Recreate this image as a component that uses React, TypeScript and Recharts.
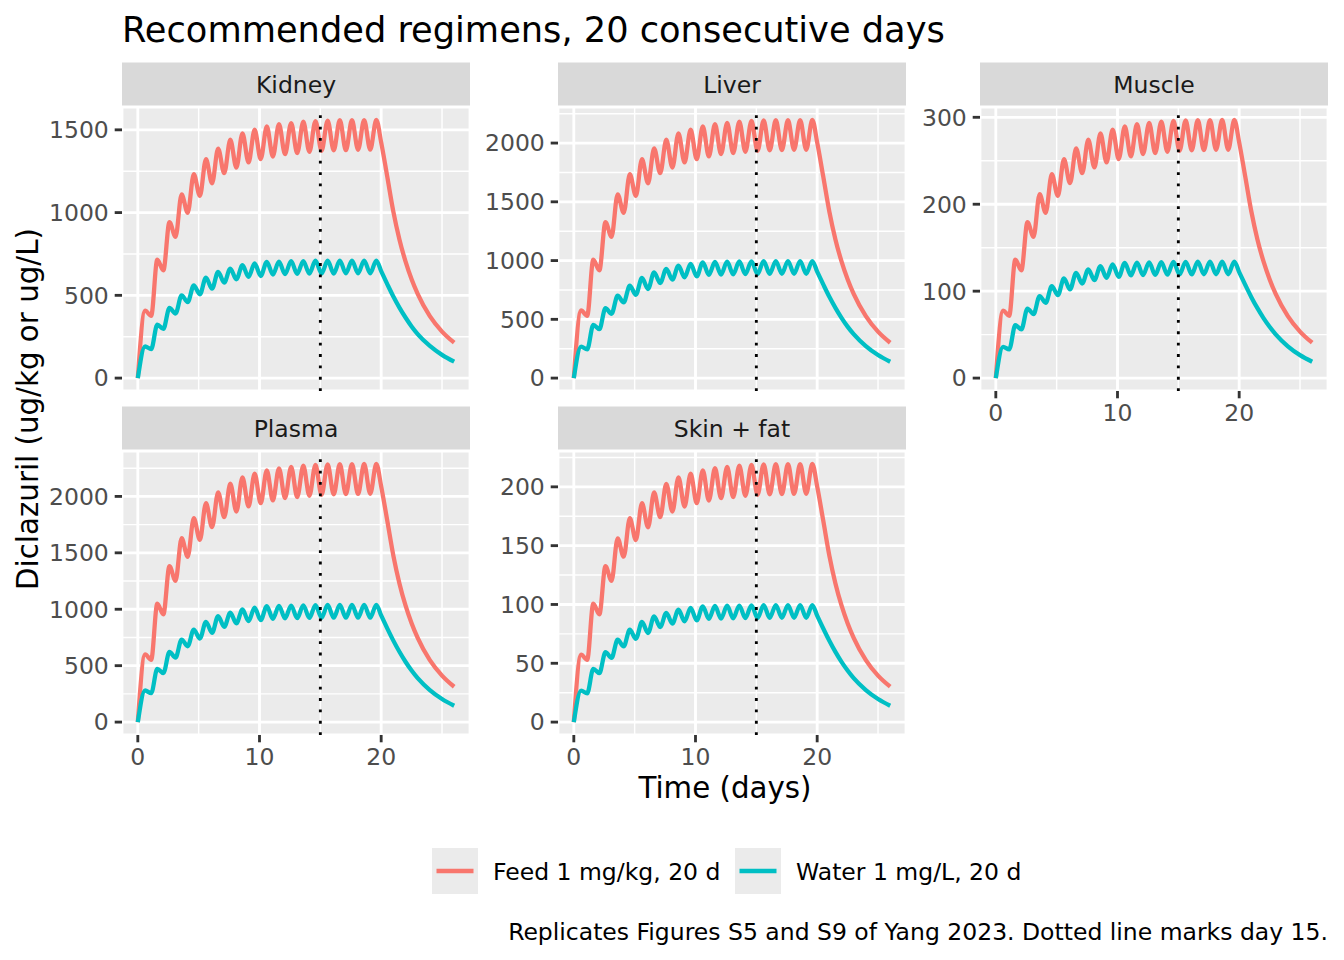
import { LineChart, Line, XAxis, YAxis, CartesianGrid, ReferenceLine } from 'recharts';

// time points (days): start, then peak / trough of each daily cycle, then washout
const TIME = [0, 0.6, 1.1, 1.6, 2.1, 2.6, 3.1, 3.6, 4.1, 4.6, 5.1, 5.6, 6.1, 6.6, 7.1, 7.6, 8.1, 8.6, 9.1, 9.6, 10.1, 10.6, 11.1, 11.6, 12.1, 12.6, 13.1, 13.6, 14.1, 14.6, 15.1, 15.6, 16.1, 16.6, 17.1, 17.6, 18.1, 18.6, 19.1, 19.6, 20, 20.5, 21, 21.5, 22, 22.5, 23, 24, 25, 26];

const KIDNEY_FEED = [0, 408, 376, 716, 651, 942, 853, 1110, 999, 1232, 1101, 1323, 1177, 1387, 1238, 1440, 1272, 1479, 1303, 1501, 1323, 1521, 1339, 1534, 1353, 1541, 1360, 1549, 1367, 1553, 1373, 1556, 1376, 1558, 1377, 1558, 1379, 1559, 1380, 1560, 1424, 1217, 1006, 838, 705, 597, 509, 374, 281, 214];
const KIDNEY_WATER = [0, 191, 175, 323, 297, 424, 390, 500, 459, 560, 506, 607, 540, 642, 577, 662, 597, 682, 611, 693, 617, 702, 626, 704, 628, 706, 630, 707, 631, 709, 632, 709, 632, 710, 633, 710, 633, 710, 633, 710, 646, 568, 493, 426, 366, 312, 266, 194, 140, 99];

const LIVER_FEED = [0, 575, 530, 1008, 917, 1327, 1202, 1564, 1407, 1735, 1550, 1863, 1658, 1954, 1744, 2028, 1792, 2083, 1835, 2114, 1863, 2142, 1886, 2160, 1906, 2171, 1915, 2182, 1926, 2188, 1934, 2192, 1938, 2194, 1940, 2195, 1942, 2196, 1943, 2197, 2006, 1714, 1417, 1180, 993, 841, 716, 527, 395, 301];
const LIVER_WATER = [0, 268, 245, 453, 416, 595, 547, 701, 644, 786, 709, 852, 758, 900, 809, 929, 838, 957, 857, 972, 866, 985, 878, 988, 881, 990, 883, 992, 885, 994, 886, 995, 887, 996, 888, 996, 888, 996, 888, 996, 906, 797, 692, 598, 513, 438, 374, 272, 196, 139];

const MUSCLE_FEED = [0, 77.7, 71.7, 136.3, 124.0, 179.4, 162.5, 211.5, 190.2, 234.6, 209.6, 251.9, 224.2, 264.2, 235.8, 274.2, 242.3, 281.6, 248.1, 285.8, 251.9, 289.6, 255.0, 292.0, 257.7, 293.5, 258.9, 295.0, 260.4, 295.8, 261.5, 296.4, 262.0, 296.6, 262.3, 296.8, 262.6, 296.9, 262.7, 297.0, 271.2, 231.7, 191.6, 159.5, 134.2, 113.8, 96.8, 71.3, 53.5, 40.7];
const MUSCLE_WATER = [0, 36.0, 33.0, 60.9, 56.0, 80.0, 73.6, 94.3, 86.6, 105.7, 95.4, 114.6, 102.0, 121.1, 108.8, 125.0, 112.7, 128.7, 115.3, 130.7, 116.5, 132.5, 118.1, 132.9, 118.5, 133.2, 118.8, 133.4, 119.0, 133.7, 119.2, 133.8, 119.3, 134.0, 119.4, 134.0, 119.4, 134.0, 119.4, 134.0, 121.9, 107.2, 93.1, 80.4, 69.0, 59.0, 50.3, 36.6, 26.4, 18.8];

const PLASMA_FEED = [0, 599, 552, 1050, 955, 1382, 1252, 1629, 1465, 1807, 1614, 1940, 1727, 2035, 1816, 2112, 1866, 2169, 1911, 2202, 1940, 2231, 1964, 2249, 1985, 2261, 1994, 2272, 2006, 2279, 2014, 2283, 2018, 2285, 2020, 2286, 2022, 2287, 2023, 2288, 2089, 1785, 1476, 1229, 1034, 876, 746, 549, 412, 313];
const PLASMA_WATER = [0, 280, 256, 472, 434, 621, 571, 731, 672, 820, 740, 889, 791, 939, 844, 969, 874, 998, 894, 1014, 903, 1027, 916, 1030, 919, 1033, 921, 1035, 923, 1037, 924, 1038, 925, 1039, 926, 1039, 926, 1039, 926, 1039, 945, 831, 722, 623, 535, 457, 390, 284, 205, 145];

const SKIN_FEED = [0, 57.4, 52.9, 100.7, 91.6, 132.6, 120.1, 156.2, 140.6, 173.3, 154.8, 186.1, 165.6, 195.2, 174.2, 202.6, 179.0, 208.1, 183.3, 211.2, 186.1, 214.0, 188.4, 215.8, 190.4, 216.9, 191.3, 218.0, 192.4, 218.6, 193.2, 219.0, 193.6, 219.2, 193.8, 219.3, 194.0, 219.4, 194.1, 219.5, 200.4, 171.2, 141.6, 117.9, 99.2, 84.1, 71.6, 52.7, 39.5, 30.1];
const SKIN_WATER = [0, 26.8, 24.5, 45.3, 41.6, 59.4, 54.6, 70.0, 64.3, 78.5, 70.8, 85.1, 75.7, 89.9, 80.8, 92.8, 83.7, 95.6, 85.6, 97.1, 86.5, 98.4, 87.7, 98.7, 88.0, 98.9, 88.2, 99.1, 88.4, 99.3, 88.5, 99.4, 88.6, 99.5, 88.7, 99.5, 88.7, 99.5, 88.7, 99.5, 90.5, 79.6, 69.2, 59.7, 51.2, 43.8, 37.3, 27.2, 19.6, 13.9];

const X_TICKS = [0, 10, 20];
const X_MINOR = [5, 15, 25];
const TICKS_500 = [0, 500, 1000, 1500, 2000];
const MINOR_500 = [250, 750, 1250, 1750, 2250];
const KIDNEY_TICKS = [0, 500, 1000, 1500];
const KIDNEY_MINOR = [250, 750, 1250];
const MUSCLE_TICKS = [0, 100, 200, 300];
const MUSCLE_MINOR = [50, 150, 250];
const SKIN_TICKS = [0, 50, 100, 150, 200];
const SKIN_MINOR = [25, 75, 125, 175, 225];

const SERIES = ['Feed 1 mg/kg, 20 d', 'Water 1 mg/L, 20 d'];
const COLORS = ['#F8766D', '#00BFC4'];
const MARK_DAY = 15;

const FONT = 'DejaVu Sans';
const PANEL_W = 348;
const PANEL_H = 284;
const STRIP_H = 44.5;
const Y_AXIS_W = 110;
const X_AXIS_H = 50;
const TOP_PAD = 16;
const COL_LEFT = [122, 558, 980];
const ROW_TOP = [107, 451];

const PANELS = [
  { name: 'Kidney', feed: KIDNEY_FEED, water: KIDNEY_WATER, ticks: KIDNEY_TICKS, minor: KIDNEY_MINOR, col: 0, row: 0, showX: false },
  { name: 'Liver', feed: LIVER_FEED, water: LIVER_WATER, ticks: TICKS_500, minor: MINOR_500, col: 1, row: 0, showX: false },
  { name: 'Muscle', feed: MUSCLE_FEED, water: MUSCLE_WATER, ticks: MUSCLE_TICKS, minor: MUSCLE_MINOR, col: 2, row: 0, showX: true },
  { name: 'Plasma', feed: PLASMA_FEED, water: PLASMA_WATER, ticks: TICKS_500, minor: MINOR_500, col: 0, row: 1, showX: true },
  { name: 'Skin + fat', feed: SKIN_FEED, water: SKIN_WATER, ticks: SKIN_TICKS, minor: SKIN_MINOR, col: 1, row: 1, showX: true },
];

const tickStyle = { fill: '#4D4D4D', fontSize: 23.5, fontFamily: FONT };
const tickLine = { stroke: '#333333', strokeWidth: 2.84 };

const xMin = Math.min(...TIME);
const xMax = Math.max(...TIME);
const xPad = (xMax - xMin) * 0.05;

const Panel = ({ p }) => {
  const data = TIME.map((t, i) => ({ t, feed: p.feed[i], water: p.water[i] }));
  const yMax = Math.max(...p.feed, ...p.water);
  const yPad = yMax * 0.05;
  return (
    <div style={{ position: 'absolute', left: COL_LEFT[p.col] - Y_AXIS_W, top: ROW_TOP[p.row] - TOP_PAD }}>
      <LineChart
        width={Y_AXIS_W + PANEL_W}
        height={TOP_PAD + PANEL_H + (p.showX ? X_AXIS_H : 0)}
        data={data}
        margin={{ top: TOP_PAD, right: 0, bottom: 0, left: 0 }}
      >
        <CartesianGrid fill="#EBEBEB" stroke="#FFFFFF" strokeWidth={2.84} />
        <CartesianGrid stroke="#FFFFFF" strokeWidth={1.42} horizontalValues={p.minor} verticalValues={X_MINOR} />
        <XAxis
          type="number"
          dataKey="t"
          domain={[xMin - xPad, xMax + xPad]}
          ticks={X_TICKS}
          interval={0}
          allowDataOverflow
          hide={!p.showX}
          height={X_AXIS_H}
          axisLine={false}
          tickLine={tickLine}
          tickSize={7.3}
          tickMargin={5.9}
          tick={tickStyle}
        />
        <YAxis
          type="number"
          domain={[-yPad, yMax + yPad]}
          ticks={p.ticks}
          interval={0}
          allowDataOverflow
          width={Y_AXIS_W}
          axisLine={false}
          tickLine={tickLine}
          tickSize={7.3}
          tickMargin={5.9}
          tick={tickStyle}
        />
        <Line type="monotone" dataKey="feed" stroke={COLORS[0]} strokeWidth={4.3} dot={false} isAnimationActive={false} />
        <Line type="monotone" dataKey="water" stroke={COLORS[1]} strokeWidth={4.3} dot={false} isAnimationActive={false} />
        <ReferenceLine x={MARK_DAY} stroke="#000000" strokeWidth={2.84} strokeDasharray="2.84 8.53" />
      </LineChart>
    </div>
  );
};

export default function App() {
  return (
    <div style={{ position: 'absolute', left: 0, top: 0, width: 1344, height: 960, background: '#FFFFFF', fontFamily: FONT }}>
      <svg width={1344} height={960} style={{ position: 'absolute', left: 0, top: 0 }}>
        <text x={122} y={41.7} fontSize={35.2} fill="#000000" fontFamily={FONT}>
          Recommended regimens, 20 consecutive days
        </text>
        {PANELS.map((p) => (
          <g key={p.name}>
            <rect x={COL_LEFT[p.col]} y={ROW_TOP[p.row] - STRIP_H} width={PANEL_W} height={STRIP_H} fill="#D9D9D9" />
            <text
              x={COL_LEFT[p.col] + PANEL_W / 2}
              y={ROW_TOP[p.row] - 14}
              fontSize={23.5}
              fill="#1A1A1A"
              textAnchor="middle"
              fontFamily={FONT}
            >
              {p.name}
            </text>
          </g>
        ))}
        <text x={725} y={797.5} fontSize={29.3} textAnchor="middle" fill="#000000" fontFamily={FONT}>
          Time (days)
        </text>
        <text
          transform="translate(38.3,409) rotate(-90)"
          fontSize={29.3}
          textAnchor="middle"
          fill="#000000"
          fontFamily={FONT}
        >
          Diclazuril (ug/kg or ug/L)
        </text>
        {SERIES.map((s, i) => {
          const x0 = i === 0 ? 432 : 735;
          return (
            <g key={s}>
              <rect x={x0} y={848} width={46} height={46} fill="#EBEBEB" />
              <line x1={x0 + 4.5} x2={x0 + 41.5} y1={871} y2={871} stroke={COLORS[i]} strokeWidth={4.3} />
              <text x={x0 + 61} y={880} fontSize={23.5} fill="#000000" fontFamily={FONT}>
                {s}
              </text>
            </g>
          );
        })}
        <text x={1328} y={940} fontSize={23.5} textAnchor="end" fill="#000000" fontFamily={FONT}>
          Replicates Figures S5 and S9 of Yang 2023. Dotted line marks day 15.
        </text>
      </svg>
      {PANELS.map((p) => (
        <Panel key={p.name} p={p} />
      ))}
    </div>
  );
}
